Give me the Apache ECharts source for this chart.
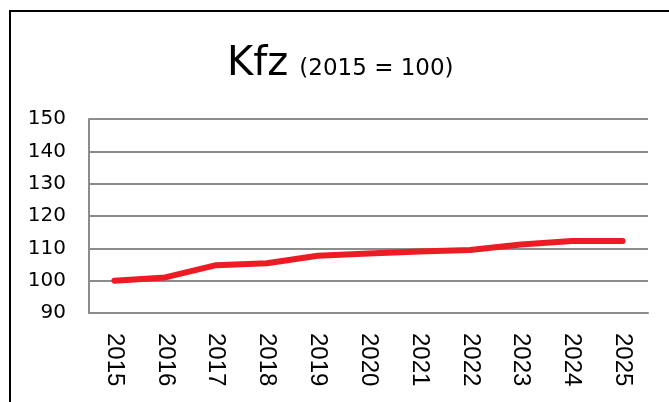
<!DOCTYPE html>
<html>
<head>
<meta charset="utf-8">
<script src="https://cdn.jsdelivr.net/npm/echarts@6/dist/echarts.min.js"></script>
<style>
  html, body { margin: 0; padding: 0; background: #fff; }
  #chart { width: 669px; height: 402px; }
</style>
</head>
<body>
<div id="chart"></div>
<script>
// data
const years = ['2015', '2016', '2017', '2018', '2019', '2020', '2021', '2022', '2023', '2024', '2025']
const kfz = [100, 101.0, 104.8, 105.4, 107.7, 108.4, 109.0, 109.5, 111.2, 112.3, 112.3]
const yMin = 90
const yMax = 150
const yStep = 10

const chart = echarts.init(document.getElementById('chart'))

const option = {
  animation: false,
  backgroundColor: '#fff',
  title: {
    text: '{a|Kfz}{b|(2015 = 100)}',
    left: 222,
    top: 36,
    textStyle: {
      fontWeight: 'normal',
      rich: {
        a: { fontFamily: 'DejaVu Sans', fontSize: 40, fontWeight: 'normal', color: '#000', lineHeight: 44, verticalAlign: 'bottom' },
        b: { fontFamily: 'DejaVu Sans', fontSize: 23, fontWeight: 'normal', color: '#000', lineHeight: 44, verticalAlign: 'bottom', padding: [0, 0, 4, 11] }
      }
    }
  },
  graphic: [
    {
      type: 'rect',
      shape: { x: 10, y: 11, width: 720, height: 500 },
      style: { fill: 'none', stroke: '#000', lineWidth: 2 },
      silent: true
    }
  ],
  grid: {
    left: 89,
    right: 21,
    top: 119,
    bottom: 89
  },
  xAxis: {
    type: 'category',
    data: years,
    boundaryGap: true,
    axisLine: { lineStyle: { color: '#8c8c8c', width: 2 } },
    axisTick: { show: false },
    axisLabel: {
      rotate: -90,
      margin: 20,
      color: '#000',
      fontFamily: 'Liberation Sans',
      fontSize: 24
    }
  },
  yAxis: {
    type: 'value',
    min: yMin,
    max: yMax,
    interval: yStep,
    axisLine: { show: true, lineStyle: { color: '#8c8c8c', width: 2 } },
    axisTick: { show: false },
    axisLabel: {
      margin: 23,
      color: '#000',
      fontFamily: 'DejaVu Sans',
      fontSize: 20
    },
    splitLine: { lineStyle: { color: '#8c8c8c', width: 2 } }
  },
  series: [
    {
      name: 'Kfz',
      type: 'line',
      data: kfz,
      symbol: 'none',
      lineStyle: { color: '#ed1c24', width: 6, cap: 'round', join: 'round' },
      z: 5
    }
  ]
}

chart.setOption(option)
</script>
</body>
</html>
